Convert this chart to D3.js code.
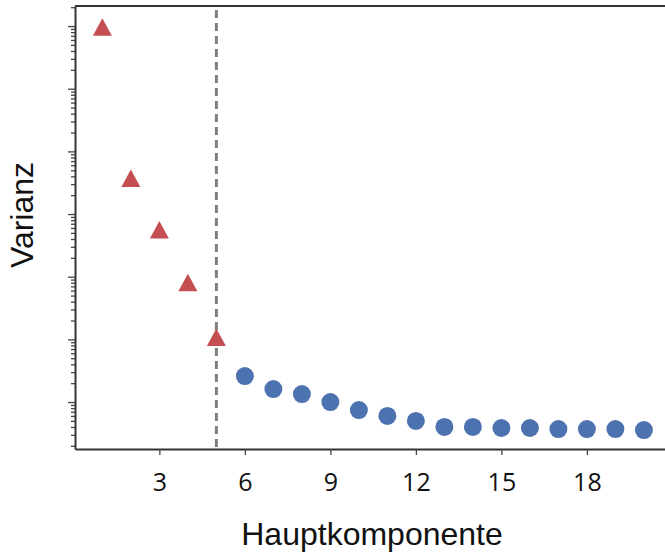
<!DOCTYPE html>
<html>
<head>
<meta charset="utf-8">
<script src="https://cdn.jsdelivr.net/npm/d3@7"></script>
<style>
  body { margin: 0; background: #fff; }
  svg { display: block; }
</style>
</head>
<body>
<div id="chart"></div>
<script>
// components and their variance (log scale)
var components = [1, 2, 3, 4, 5, 6, 7, 8, 9, 10, 11, 12, 13, 14, 15, 16, 17, 18, 19, 20];
var variance = [960000, 3700, 556, 80, 10.7, 2.6, 1.61, 1.34, 1.0, 0.745, 0.6, 0.5, 0.4, 0.4, 0.385, 0.385, 0.37, 0.37, 0.37, 0.357];
var cutoff = 5;
var xTicks = [3, 6, 9, 12, 15, 18];

var width = 665, height = 553;
var plotLeft = 75, plotRight = 665, plotTop = 6, plotBottom = 449;

var svg = d3.select("#chart").append("svg")
    .attr("width", width)
    .attr("height", height);

var x = d3.scaleLinear().domain([0.04, 20.74]).range([plotLeft, plotRight]);
var y = d3.scaleLog().domain([0.178, 2.09e6]).range([plotBottom, plotTop]);

// y axis: log ticks without labels
var logTicks = [];
for (var e = -1; e <= 6; e++) {
    for (var m = 1; m <= 9; m++) {
        var v = m * Math.pow(10, e);
        if (v >= y.domain()[0] && v <= y.domain()[1]) logTicks.push(v);
    }
}
var yAxis = svg.append("g")
    .attr("transform", "translate(" + plotLeft + ",0)")
    .call(d3.axisLeft(y).tickValues(logTicks).tickFormat("").tickSizeOuter(0));
yAxis.selectAll(".tick line")
    .attr("x2", function(d) {
        var k = d / Math.pow(10, Math.floor(Math.log10(d) + 1e-9));
        return Math.abs(k - 1) < 1e-6 ? -7 : -4;
    })
    .attr("stroke", "#444")
    .attr("stroke-width", 1.3);
yAxis.select(".domain").attr("stroke", "#333").attr("stroke-width", 2);

// x axis
var xAxis = svg.append("g")
    .attr("transform", "translate(0," + plotBottom + ")")
    .call(d3.axisBottom(x).tickValues(xTicks).tickSize(6).tickSizeOuter(0).tickPadding(18));
xAxis.select(".domain").attr("stroke", "#333").attr("stroke-width", 2);
xAxis.selectAll(".tick line").attr("stroke", "#444").attr("stroke-width", 1.3);
xAxis.selectAll(".tick text")
    .attr("font-family", "'Open Sans', 'Liberation Sans', sans-serif")
    .attr("font-size", 25)
    .attr("fill", "#111");

// top border
svg.append("line")
    .attr("x1", plotLeft).attr("x2", plotRight)
    .attr("y1", plotTop).attr("y2", plotTop)
    .attr("stroke", "#333").attr("stroke-width", 2);

// cutoff line
svg.append("line")
    .attr("x1", x(cutoff)).attr("x2", x(cutoff))
    .attr("y1", plotTop + 4).attr("y2", plotBottom)
    .attr("stroke", "#7f7f7f")
    .attr("stroke-width", 3)
    .attr("stroke-dasharray", "8,5");

var pts = components.map(function(c, i) { return {c: c, v: variance[i]}; });

// triangle centred on its bounding box
var triPath = "M0,-9L9.5,8.5L-9.5,8.5Z";
svg.selectAll(".tri")
    .data(pts.filter(function(d) { return d.c <= cutoff; }))
    .enter().append("path")
    .attr("class", "tri")
    .attr("d", triPath)
    .attr("transform", function(d) { return "translate(" + x(d.c) + "," + y(d.v) + ")"; })
    .attr("fill", "#c44e52");

svg.selectAll(".dot")
    .data(pts.filter(function(d) { return d.c > cutoff; }))
    .enter().append("circle")
    .attr("class", "dot")
    .attr("cx", function(d) { return x(d.c); })
    .attr("cy", function(d) { return y(d.v); })
    .attr("r", 9)
    .attr("fill", "#4c72b0");

// axis titles
svg.append("text")
    .attr("x", 372).attr("y", 545)
    .attr("text-anchor", "middle")
    .attr("font-family", "'Liberation Sans', Arial, sans-serif")
    .attr("font-size", 32)
    .attr("fill", "#111")
    .text("Hauptkomponente");

svg.append("text")
    .attr("transform", "translate(33,215) rotate(-90)")
    .attr("text-anchor", "middle")
    .attr("font-family", "'Liberation Sans', Arial, sans-serif")
    .attr("font-size", 32)
    .attr("fill", "#111")
    .text("Varianz");
</script>
</body>
</html>
